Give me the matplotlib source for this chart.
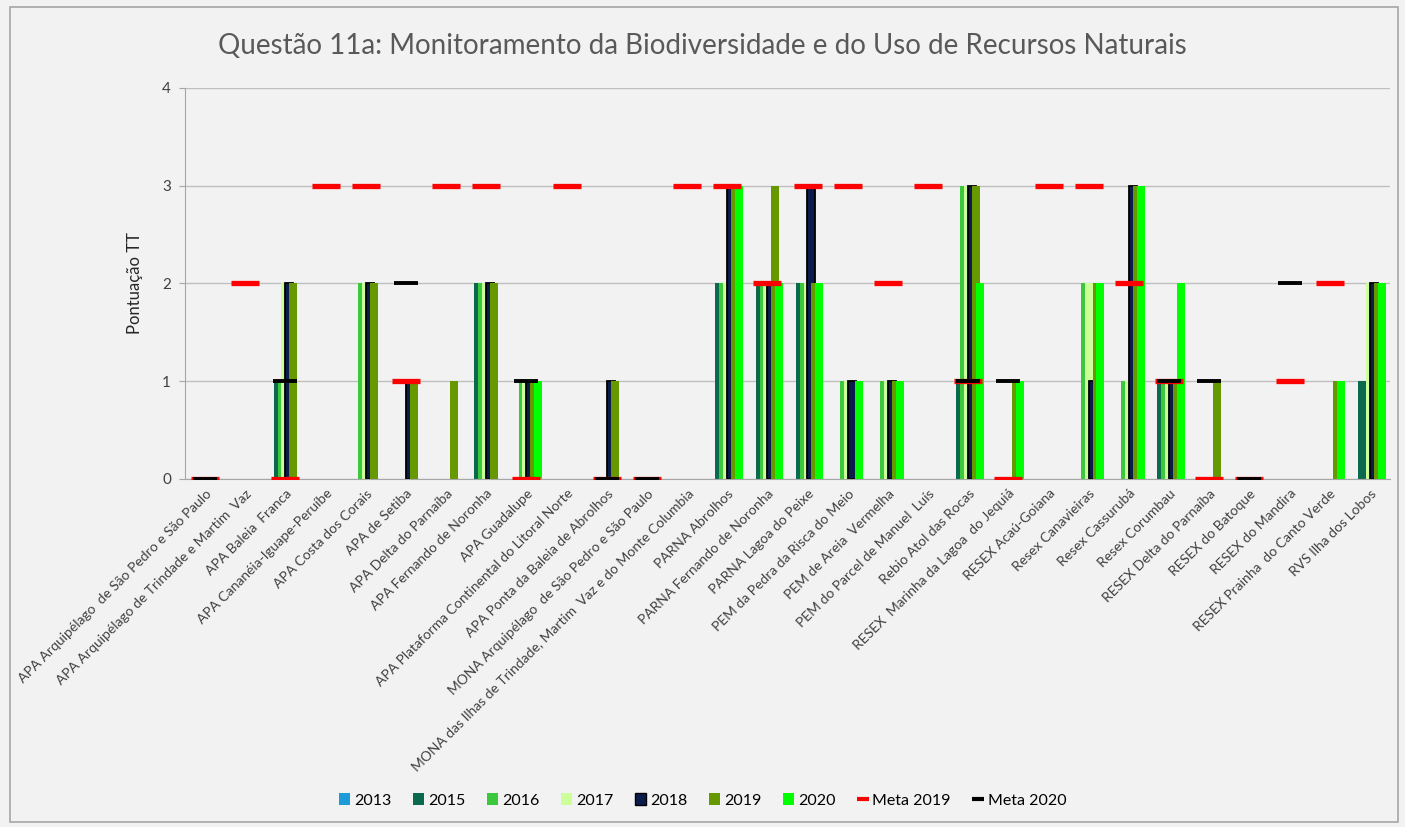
import numpy as np
import matplotlib.pyplot as plt
from matplotlib.lines import Line2D
from matplotlib.patches import Rectangle

plt.rcParams['font.family'] = ['Lato', 'DejaVu Sans']

# --- Data ---
units = [
    "APA Arquipélago  de São Pedro e São Paulo",
    "APA Arquipélago de Trindade e Martim  Vaz",
    "APA Baleia  Franca",
    "APA Cananéia-Iguape-Peruíbe",
    "APA Costa dos Corais",
    "APA de Setiba",
    "APA Delta do Parnaíba",
    "APA Fernando de Noronha",
    "APA Guadalupe",
    "APA Plataforma Continental do Litoral Norte",
    "APA Ponta da Baleia de Abrolhos",
    "MONA Arquipélago  de São Pedro e São Paulo",
    "MONA das Ilhas de Trindade, Martim  Vaz e do Monte Columbia",
    "PARNA Abrolhos",
    "PARNA Fernando de Noronha",
    "PARNA Lagoa do Peixe",
    "PEM da Pedra da Risca do Meio",
    "PEM de Areia  Vermelha",
    "PEM do Parcel de Manuel  Luís",
    "Rebio Atol das Rocas",
    "RESEX  Marinha da Lagoa  do Jequiá",
    "RESEX Acaú-Goiana",
    "Resex Canavieiras",
    "Resex Cassurubá",
    "Resex Corumbau",
    "RESEX Delta do Parnaíba",
    "RESEX do Batoque",
    "RESEX do Mandira",
    "RESEX Prainha  do Canto Verde",
    "RVS Ilha dos Lobos",
]

y2013 = [0] * 30
y2015 = [0, 0, 1, 0, 0, 0, 0, 2, 0, 0, 0, 0, 0, 2, 2, 2, 0, 0, 0, 1, 0, 0, 0, 0, 1, 0, 0, 0, 0, 1]
y2016 = [0, 0, 1, 0, 2, 0, 0, 2, 1, 0, 0, 0, 0, 2, 2, 2, 1, 1, 0, 3, 0, 0, 2, 1, 1, 0, 0, 0, 0, 0]
y2017 = [0, 0, 2, 0, 2, 0, 0, 2, 1, 0, 0, 0, 0, 2, 2, 2, 1, 1, 0, 3, 0, 0, 2, 1, 1, 0, 0, 0, 0, 2]
y2018 = [0, 0, 2, 0, 2, 1, 0, 2, 1, 0, 1, 0, 0, 3, 2, 3, 1, 1, 0, 3, 0, 0, 1, 3, 1, 0, 0, 0, 0, 2]
y2019 = [0, 0, 2, 0, 2, 1, 1, 2, 1, 0, 1, 0, 0, 3, 3, 2, 0, 1, 0, 3, 1, 0, 2, 3, 1, 1, 0, 0, 1, 2]
y2020 = [0, 0, 0, 0, 0, 0, 0, 0, 1, 0, 0, 0, 0, 3, 2, 2, 1, 1, 0, 2, 1, 0, 2, 3, 2, 0, 0, 0, 1, 2]

nan = np.nan
meta2019 = [0, 2, 0, 3, 3, 1, 3, 3, 0, 3, 0, 0, 3, 3, 2, 3, 3, 2, 3, 1, 0, 3, 3, 2, 1, 0, 0, 1, 2, nan]
meta2020 = [0, nan, 1, nan, nan, 2, nan, nan, 1, nan, 0, 0, nan, nan, nan, nan, nan, nan, nan, 1, 1,
            nan, nan, nan, 1, 1, 0, 2, nan, nan]

series = [
    ("2013", y2013, "#1b9bd7", "#1b9bd7"),
    ("2015", y2015, "#0b6a4e", "#0b6a4e"),
    ("2016", y2016, "#3cc83c", "#3cc83c"),
    ("2017", y2017, "#ccff99", "#ccff99"),
    ("2018", y2018, "#0a1d4a", "#000000"),
    ("2019", y2019, "#669900", "#669900"),
    ("2020", y2020, "#00ff00", "#00ff00"),
]

x = np.arange(len(units))
step = 0.097
width = 0.2

fig = plt.figure(figsize=(14.05, 8.27), dpi=100)
fig.patch.set_facecolor("#f2f2f2")
fig.patches.append(Rectangle((0.007, 0.006), 0.988, 0.985, transform=fig.transFigure,
                             fill=False, edgecolor="#a6a6a6", lw=1.2))
ax = fig.add_axes([0.1317, 0.4208, 0.8576, 0.4728])
ax.set_facecolor("#f2f2f2")

handles = []
for k, (name, vals, fc, ec) in enumerate(series):
    lw = 1.3 if name == "2018" else 0
    # zero-height bars get no outline, as in Excel
    edges = [ec if v > 0 else "none" for v in vals]
    ax.bar(x + (k - 3) * step, vals, width=width, color=fc, edgecolor=edges,
           linewidth=lw, zorder=2 + k * 0.01)
    handles.append(Rectangle((0, 0), 1, 1, facecolor=fc, edgecolor=ec,
                             linewidth=1.0 if lw else 0, label=name))

ax.plot(x, meta2019, linestyle="none", marker="_", markersize=20, markeredgewidth=3.8,
        color="#ff0000", zorder=5)
ax.plot(x, meta2020, linestyle="none", marker="_", markersize=17, markeredgewidth=2.8,
        color="#000000", zorder=6)
handles.append(Line2D([], [], linestyle="none", marker="_", markersize=8,
                      markeredgewidth=3, color="#ff0000", label="Meta 2019"))
handles.append(Line2D([], [], linestyle="none", marker="_", markersize=8,
                      markeredgewidth=3, color="#000000", label="Meta 2020"))

ax.set_xlim(-0.5, len(units) - 0.5)
ax.set_ylim(0, 4)
ax.set_yticks([0, 1, 2, 3, 4])
ax.yaxis.grid(True, color="#bfbfbf", lw=1)
ax.set_axisbelow(True)
for s in ["top", "right"]:
    ax.spines[s].set_visible(False)
ax.spines["left"].set_color("#a6a6a6")
ax.spines["bottom"].set_color("#a6a6a6")
ax.tick_params(axis="y", labelsize=11, colors="#404040", length=4, color="#a6a6a6", pad=6)
ax.tick_params(axis="x", length=0, pad=6)
ax.set_xticks(x)
ax.set_xticklabels(units, rotation=45, ha="right", rotation_mode="anchor",
                   fontsize=10, color="#404040")
ax.set_ylabel("Pontuação TT", fontsize=12, color="#262626", labelpad=14)

fig.suptitle("Questão 11a: Monitoramento da Biodiversidade e do Uso de Recursos Naturais",
             x=0.5, y=0.96, fontsize=20, color="#595959")

fig.legend(handles=handles, loc="center", bbox_to_anchor=(0.5, 0.032), ncol=9, frameon=False,
           fontsize=11.5, handlelength=0.7, handleheight=0.8, handletextpad=0.25, columnspacing=1.35)

plt.savefig("out.png", dpi=100, facecolor=fig.get_facecolor())
